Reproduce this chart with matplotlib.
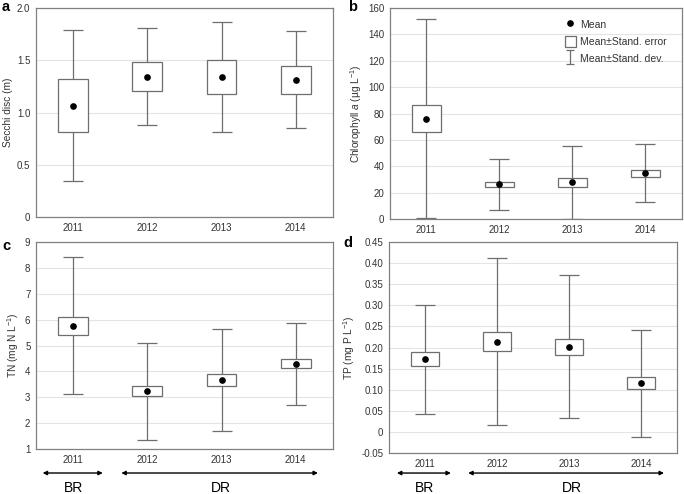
import matplotlib
matplotlib.use("Agg")
import matplotlib.pyplot as plt
from matplotlib.lines import Line2D
from matplotlib.patches import Rectangle
from matplotlib.path import Path

plt.rcParams["font.family"] = ["Liberation Sans", "DejaVu Sans"]
plt.rcParams["mathtext.fontset"] = "custom"
plt.rcParams["mathtext.rm"] = "Liberation Sans"
plt.rcParams["mathtext.it"] = "Liberation Sans:italic"

years = ["2011", "2012", "2013", "2014"]

# Secchi disc (m)
secchi_mean = [1.06, 1.34, 1.34, 1.31]
secchi_se_lo = [0.81, 1.21, 1.18, 1.175]
secchi_se_hi = [1.32, 1.48, 1.50, 1.45]
secchi_sd_lo = [0.34, 0.88, 0.81, 0.85]
secchi_sd_hi = [1.79, 1.81, 1.87, 1.78]

# Chlorophyll a (ug/L)
chla_mean = [76.0, 26.5, 27.8, 34.6]
chla_se_lo = [65.9, 24.2, 24.5, 32.1]
chla_se_hi = [86.3, 28.3, 30.8, 37.1]
chla_sd_lo = [0.5, 6.8, 0.0, 12.6]
chla_sd_hi = [152.0, 45.4, 55.3, 56.8]

# TN (mg N/L)
tn_mean = [5.76, 3.23, 3.65, 4.28]
tn_se_lo = [5.42, 3.04, 3.45, 4.12]
tn_se_hi = [6.10, 3.45, 3.88, 4.47]
tn_sd_lo = [3.13, 1.35, 1.69, 2.71]
tn_sd_hi = [8.41, 5.10, 5.65, 5.86]

# TP (mg P/L)
tp_mean = [0.172, 0.214, 0.201, 0.115]
tp_se_lo = [0.156, 0.192, 0.183, 0.101]
tp_se_hi = [0.189, 0.236, 0.221, 0.129]
tp_sd_lo = [0.043, 0.017, 0.032, -0.012]
tp_sd_hi = [0.301, 0.413, 0.372, 0.241]

EDGE = "#6e6e6e"
SPINE = "#808080"
GRID = "#e4e4e4"
TXT = "#333333"


def draw_panel(ax, mean, se_lo, se_hi, sd_lo, sd_hi, ylim, yticks, ylabels, ylabel):
    x = list(range(len(years)))
    yerr = [[m - lo for m, lo in zip(mean, sd_lo)], [hi - m for m, hi in zip(mean, sd_hi)]]
    ax.errorbar(x, mean, yerr=yerr, fmt="none", ecolor=EDGE, elinewidth=0.9,
                capsize=7.2, capthick=0.9, zorder=2)
    ax.bar(x, [h - l for h, l in zip(se_hi, se_lo)], bottom=se_lo, width=0.4,
           facecolor="white", edgecolor=EDGE, linewidth=0.9, zorder=3)
    ax.plot(x, mean, "o", color="black", markersize=3.8, zorder=4)

    ax.set_xlim(-0.5, 3.5)
    ax.set_ylim(*ylim)
    ax.set_xticks(x)
    ax.set_xticklabels(years)
    ax.set_yticks(yticks)
    ax.set_yticklabels(ylabels)
    ax.tick_params(length=0, labelsize=7, colors=TXT, pad=4)
    ax.yaxis.grid(True, color=GRID, linewidth=0.8, zorder=0)
    ax.set_axisbelow(True)
    for s in ax.spines.values():
        s.set_color(SPINE)
        s.set_linewidth(0.9)
    ax.set_ylabel(ylabel, fontsize=7.3, color=TXT, labelpad=3)


def period_arrows(ax, y_arrow, y_text, br_span, dr_span, dr_x):
    tr = ax.get_xaxis_transform()
    for span in (br_span, dr_span):
        ax.annotate("", xy=(span[1], y_arrow), xytext=(span[0], y_arrow),
                    xycoords=tr, textcoords=tr, annotation_clip=False,
                    arrowprops=dict(arrowstyle="<|-|>", color="black", lw=1.0,
                                    mutation_scale=6, shrinkA=0, shrinkB=0))
    ax.text(0.0, y_text, "BR", transform=tr, ha="center", va="center", fontsize=10)
    ax.text(dr_x, y_text, "DR", transform=tr, ha="center", va="center", fontsize=10)


fig = plt.figure(figsize=(6.84, 4.94), dpi=100)
ax_a = fig.add_axes([0.0526, 0.5607, 0.434, 0.423])
ax_b = fig.add_axes([0.570, 0.5567, 0.427, 0.427])
ax_c = fig.add_axes([0.0526, 0.0911, 0.434, 0.419])
ax_d = fig.add_axes([0.5687, 0.0830, 0.421, 0.427])

draw_panel(ax_a, secchi_mean, secchi_se_lo, secchi_se_hi, secchi_sd_lo, secchi_sd_hi,
           (0, 2.0), [0, 0.5, 1.0, 1.5, 2.0], ["0", "0.5", "1.0", "1.5", "2.0"],
           "Secchi disc (m)")

chla_ticks = list(range(0, 161, 20))
draw_panel(ax_b, chla_mean, chla_se_lo, chla_se_hi, chla_sd_lo, chla_sd_hi,
           (0, 160), chla_ticks, [str(t) for t in chla_ticks],
           "Chlorophyll $\\it{a}$ (µg L$^{-1}$)")

tn_ticks = list(range(1, 10))
draw_panel(ax_c, tn_mean, tn_se_lo, tn_se_hi, tn_sd_lo, tn_sd_hi,
           (1, 9), tn_ticks, [str(t) for t in tn_ticks],
           "TN (mg N L$^{-1}$)")

tp_ticks = [-0.05, 0, 0.05, 0.10, 0.15, 0.20, 0.25, 0.30, 0.35, 0.40, 0.45]
tp_labels = ["0" if t == 0 else f"{t:.2f}" for t in tp_ticks]
draw_panel(ax_d, tp_mean, tp_se_lo, tp_se_hi, tp_sd_lo, tp_sd_hi,
           (-0.05, 0.45), tp_ticks, tp_labels,
           "TP (mg P L$^{-1}$)")

# panel letters
for lx, ly, letter in [(0.003, 0.985, "a"), (0.509, 0.985, "b"),
                       (0.003, 0.503, "c"), (0.502, 0.508, "d")]:
    fig.text(lx, ly, letter, fontsize=10.5, fontweight="bold", ha="left", va="center")

# legend in panel b
ibar = Path([(-0.5, 1), (0.5, 1), (0, 1), (0, -1), (-0.5, -1), (0.5, -1)],
            [Path.MOVETO, Path.LINETO, Path.MOVETO, Path.LINETO, Path.MOVETO, Path.LINETO])
handles = [
    Line2D([], [], marker="o", color="black", linestyle="none", markersize=3.8),
    Rectangle((0, 0), 1, 1, facecolor="white", edgecolor=EDGE, linewidth=0.9),
    Line2D([], [], marker=ibar, color=EDGE, linestyle="none", markersize=10.5,
           markeredgewidth=0.9),
]
ax_b.legend(handles, ["Mean", "Mean±Stand. error", "Mean±Stand. dev."],
            loc="upper left", bbox_to_anchor=(0.575, 0.985), frameon=False,
            fontsize=7.5, handlelength=1.0, handleheight=1.3, labelspacing=0.55,
            handletextpad=0.4, borderaxespad=0.3, labelcolor=TXT)

period_arrows(ax_c, -0.116, -0.19, (-0.41, 0.40), (0.65, 3.30), 1.99)
period_arrows(ax_d, -0.095, -0.165, (-0.39, 0.36), (0.60, 3.32), 2.04)

fig.savefig("out.png", dpi=100)
